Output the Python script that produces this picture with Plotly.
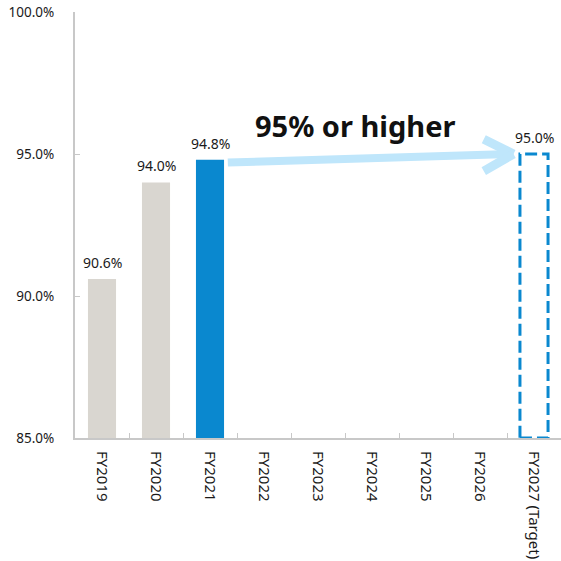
import plotly.graph_objects as go

categories = ["FY2019", "FY2020", "FY2021", "FY2022", "FY2023", "FY2024", "FY2025", "FY2026", "FY2027 (Target)"]
actual_values = [90.6, 94.0, 94.8, None, None, None, None, None, None]
target_value = 95.0
target_category = "FY2027 (Target)"
bar_colors = ["#d9d6d0", "#d9d6d0", "#0a88cf"] + ["#d9d6d0"] * 6
y_ticks = [85, 90, 95, 100]
annotation_text = "95% or higher"

FONT = "Noto Sans"
TXT = "#1a1a1a"
FS = 14

fig = go.Figure()
fig.add_trace(go.Bar(
    x=categories, y=actual_values,
    marker=dict(color=bar_colors, line=dict(width=0)),
    hoverinfo="skip",
))
for c, v in zip(categories, actual_values):
    if v is not None:
        fig.add_annotation(x=c, y=v, xref="x", yref="y", text=f"{v:.1f}%",
                           showarrow=False, yanchor="bottom", yshift=5,
                           font=dict(family=FONT, size=FS, color=TXT))

ti = categories.index(target_category)
last_idx = max(i for i, v in enumerate(actual_values) if v is not None)
last_val = actual_values[last_idx]
half = 0.26

# dashed target outline
fig.add_shape(type="rect", xref="x", yref="y",
              x0=ti - half, x1=ti + half, y0=y_ticks[0], y1=target_value,
              line=dict(color="#0a88cf", width=3, dash="12px,5px"), fillcolor="rgba(0,0,0,0)")
fig.add_annotation(x=ti, y=target_value, xref="x", yref="y", text=f"{target_value:.1f}%",
                   showarrow=False, yanchor="bottom", yshift=5,
                   font=dict(family=FONT, size=FS, color=TXT))

# arrow
sx, sy = last_idx + 0.33, last_val - 0.1
ex, ey = ti - 0.38, target_value
arrow_col = "#bfe6fb"
fig.add_shape(type="line", xref="x", yref="y", x0=sx, y0=sy, x1=ex, y1=ey,
              line=dict(color=arrow_col, width=8))
for dy in (0.52, -0.6):
    fig.add_shape(type="line", xref="x", yref="y", x0=ex - 0.55, y0=ey + dy, x1=ex, y1=ey,
                  line=dict(color=arrow_col, width=9))

fig.add_annotation(x=(last_idx + ti) / 2 - 0.3, y=target_value + 1.0, xref="x", yref="y",
                   text=f"<b>{annotation_text}</b>", showarrow=False,
                   font=dict(family=FONT, size=29, color="#111111"))

fig.update_layout(
    width=561, height=561,
    margin=dict(l=75, r=0, t=12, b=123, autoexpand=False),
    plot_bgcolor="white", paper_bgcolor="white",
    showlegend=False, bargap=0.48,
    font=dict(family=FONT, size=FS, color=TXT),
)
fig.update_xaxes(
    type="category", categoryorder="array", categoryarray=categories,
    range=[-0.5, len(categories) - 0.5], automargin=False,
    showline=True, linecolor="#c8c8c8", linewidth=2,
    ticks="inside", tickson="boundaries", ticklen=5, tickcolor="#c8c8c8",
    tickangle=90, ticklabelstandoff=8,
    tickfont=dict(family=FONT, size=15, color=TXT),
    showgrid=False, zeroline=False,
)
fig.update_yaxes(
    range=[y_ticks[0], y_ticks[-1]], tickvals=y_ticks, automargin=False,
    ticktext=[f"{v:.1f}%" for v in y_ticks],
    showline=True, linecolor="#c8c8c8", linewidth=2,
    ticks="inside", ticklen=5, tickcolor="#c8c8c8",
    ticklabelstandoff=16,
    tickfont=dict(family=FONT, size=13.5, color=TXT),
    showgrid=False, zeroline=False,
)

fig.write_html("out.html", config={"displayModeBar": False},
               post_script="document.body.style.margin='0';")
